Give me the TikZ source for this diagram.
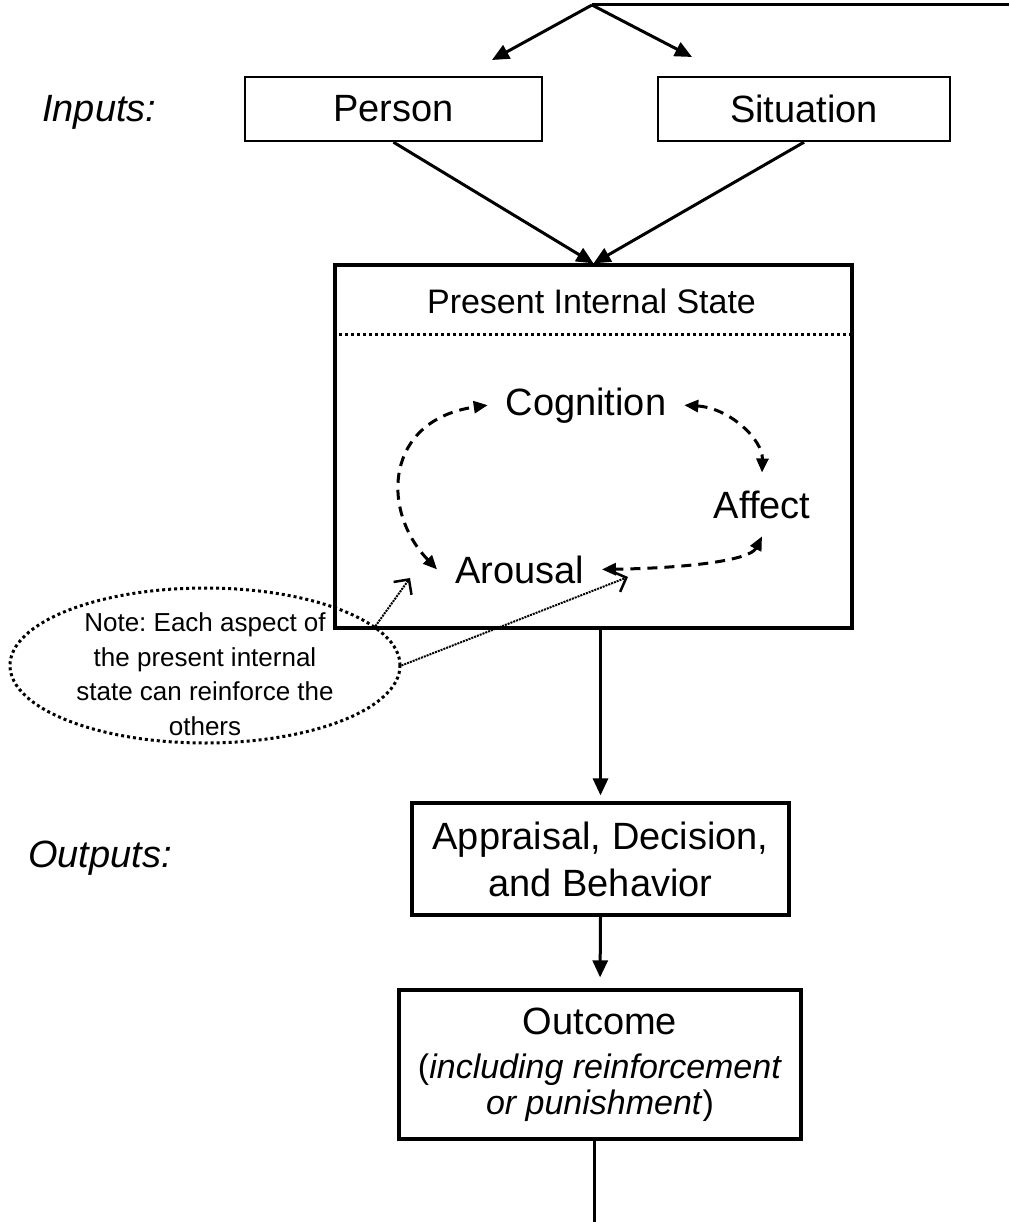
\documentclass[tikz,border=0pt]{standalone}
\usepackage{fontspec}
\setmainfont{Liberation Sans}
\usepackage{tikz}
\usetikzlibrary{arrows.meta,shapes.geometric}
\frenchspacing

\tikzset{
  box/.style={draw, line width=3.2pt, align=center, inner sep=0pt},
  arr/.style={line width=3pt, -{Triangle[length=17pt,width=15pt]}},
  dasharr/.style={line width=3pt, dash pattern=on 10pt off 7pt,
    {Triangle[length=14pt,width=12pt]}-{Triangle[length=14pt,width=12pt]}},
  notearr/.style={line width=2pt, dash pattern=on 2pt off 1pt,
    -{Straight Barb[length=11pt,width=22pt,line width=2.5pt]}},
  dots/.style={line width=3pt, dash pattern=on 3pt off 3pt},
  word/.style={inner sep=0pt, outer sep=18pt, font=\fontsize{38}{46}\selectfont},
  big/.style={font=\fontsize{38}{46}\selectfont},
}

\begin{document}
\begin{tikzpicture}[x=1pt,y=-1pt]
\useasboundingbox (0,0) rectangle (1009,1222) ;
% inputs
\node[box, big, line width=2.4pt, minimum width=297pt, minimum height=64pt] (person) at (393.5,109) {Person} ;
\node[box, big, line width=2.4pt, minimum width=292pt, minimum height=64pt] (situation) at (804,109) {Situation} ;
\node[big, anchor=base west, inner sep=0pt] (inputs) at (42,122) {\itshape Inputs:} ;
\node[big, anchor=base west, inner sep=0pt] (outputs) at (28,867) {\itshape Outputs:} ;
\coordinate (split) at (592,5) ;
\coordinate (edge) at (1009,5) ;
\coordinate (pin) at (492,60) ;
\coordinate (sin) at (692,57) ;
\draw [line width=3pt] (split) -- (edge) ;
\draw [arr] (split) -- (pin) ;
\draw [arr] (split) -- (sin) ;
% present internal state
\node[box, minimum width=517pt, minimum height=363pt] (state) at (593.5,446.5) {} ;
\node[anchor=base, inner sep=0pt, font=\fontsize{34}{40}\selectfont] (pis) at (591.5,313) {Present Internal State} ;
\draw [dots] ([yshift=-71pt]state.north west) -- ([yshift=-71pt]state.north east) ;
\draw [arr] (person.south) -- (state.north) ;
\draw [arr] (situation.south) -- (state.north) ;
\node[word, anchor=base] (cog) at (586,415) {Cognition} ;
\node[word, anchor=base] (aff) at (762,518) {Affect} ;
\node[word, anchor=base] (aro) at (519.5,583) {Arousal} ;
\draw [dasharr] (aro.west) .. controls (380,510) and (385,420) .. (cog.west) ;
\draw [dasharr] (cog.east) .. controls (730,408) and (763,440) .. (aff.north) ;
\draw [dasharr] (aff.south) .. controls (750,560) and (690,568) .. (aro.east) ;
% note
\node[draw, dots, ellipse, minimum width=390pt, minimum height=155pt, inner sep=0pt] (note) at (205,665.5) {} ;
\node[align=center, inner sep=0pt, font=\fontsize{26}{34.5}\selectfont] (notetext) at (205,674) {Note: Each aspect of\\the present internal\\state can reinforce the\\others} ;
\coordinate (n1) at (410,578) ;
\coordinate (n2) at (628,577) ;
\draw [notearr] (note.13) -- (n1) ;
\draw [notearr] (note.east) -- (n2) ;
% outputs
\node[box, big, minimum width=377pt, minimum height=112pt, font=\fontsize{38}{47}\selectfont] (appr) at (600.5,859) {Appraisal, Decision,\\and Behavior} ;
\node[box, minimum width=402pt, minimum height=149pt, font=\fontsize{34}{36}\selectfont] (outcome) at (600,1064.5) {{\fontsize{38}{44}\selectfont Outcome}\\[8pt](\textit{including reinforcement}\\\textit{or punishment})} ;
\draw [arr, shorten >=6pt] (state.south -| appr.north) -- (appr.north) ;
\draw [arr, shorten >=11pt] (appr.south) -- (outcome.north) ;
\coordinate (down) at (594,1222) ;
\draw [line width=3pt] (down |- outcome.south) -- (down) ;
\end{tikzpicture}
\end{document}
